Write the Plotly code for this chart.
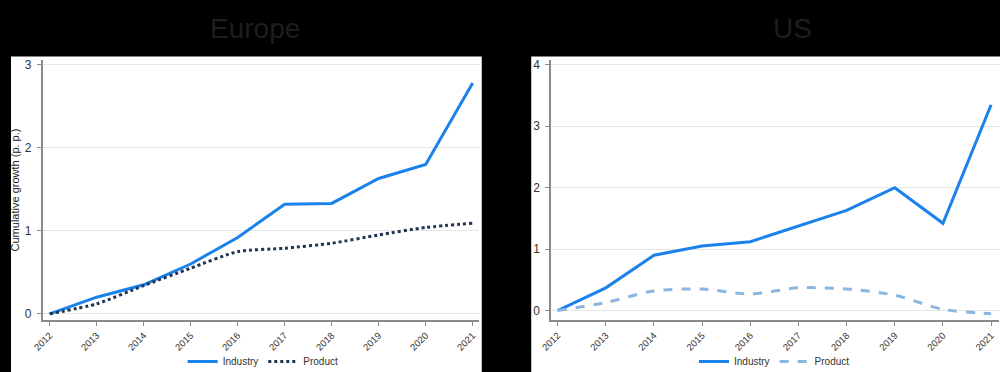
import plotly.graph_objects as go

years = [2012, 2013, 2014, 2015, 2016, 2017, 2018, 2019, 2020, 2021]
year_labels = [str(y) for y in years]

eu_industry = [0.0, 0.20, 0.35, 0.60, 0.92, 1.32, 1.33, 1.63, 1.80, 2.78]
eu_product = [0.0, 0.12, 0.34, 0.55, 0.75, 0.79, 0.85, 0.95, 1.04, 1.09]
us_industry = [0.0, 0.37, 0.90, 1.05, 1.12, 1.37, 1.63, 2.00, 1.42, 3.35]
us_product = [0.0, 0.13, 0.32, 0.35, 0.27, 0.37, 0.35, 0.25, 0.02, -0.05]

eu_yticks = [0, 1, 2, 3]
us_yticks = [0, 1, 2, 3, 4]

c_ind = "#1a82ea"
c_eu_prod = "#1f3552"
c_us_prod = "#8db6df"

H = 377  # slightly taller than the window; bottom few px fall outside the view

def py(p):
    return (H - p) / H

fig = go.Figure()
fig.add_trace(go.Scatter(x=years, y=eu_industry, mode="lines", name="Industry",
                         line=dict(color=c_ind, width=3), xaxis="x", yaxis="y", legend="legend"))
fig.add_trace(go.Scatter(x=years, y=eu_product, mode="lines", name="Product",
                         line=dict(color=c_eu_prod, width=3, dash="dot", shape="spline", smoothing=0.6),
                         xaxis="x", yaxis="y", legend="legend"))
fig.add_trace(go.Scatter(x=years, y=us_industry, mode="lines", name="Industry",
                         line=dict(color=c_ind, width=3), xaxis="x2", yaxis="y2", legend="legend2"))
fig.add_trace(go.Scatter(x=years, y=us_product, mode="lines", name="Product",
                         line=dict(color=c_us_prod, width=3, dash="dash", shape="spline", smoothing=0.8),
                         xaxis="x2", yaxis="y2", legend="legend2"))

axis_common = dict(showline=True, linecolor="#8a8a8a", linewidth=1.5, ticks="outside",
                   ticklen=4, tickcolor="#8a8a8a", zeroline=False,
                   tickfont=dict(family="Arial", size=12, color="#333333"))

xcommon = dict(axis_common, tickmode="array", tickvals=years, ticktext=year_labels,
               tickangle=-45, showgrid=False, tickfont=dict(family="Arial", size=9.5, color="#333333"))

ydom = [py(321), py(58)]

fig.update_layout(
    width=1000, height=H,
    margin=dict(l=0, r=0, t=0, b=0),
    paper_bgcolor="black",
    plot_bgcolor="white",
    xaxis=dict(xcommon, domain=[0.032, 0.473], range=[2011.85, 2021.13], anchor="y"),
    yaxis=dict(axis_common, domain=ydom, range=[-0.08, 3.063], anchor="x",
               tickmode="array", tickvals=eu_yticks, showgrid=True, gridcolor="#e6e6e6",
               ticklabelstandoff=3,
               title=dict(text="Cumulative growth (p. p.)", standoff=3,
                          font=dict(family="Arial", size=11, color="#222222"))),
    xaxis2=dict(xcommon, domain=[0.546, 0.999], range=[2011.862, 2021.164], anchor="y2"),
    yaxis2=dict(axis_common, domain=ydom, range=[-0.161, 4.086], anchor="x2",
                tickmode="array", tickvals=us_yticks, showgrid=True, gridcolor="#e6e6e6",
                ticklabelstandoff=3),
    legend=dict(orientation="h", x=0.255, y=0.0, xanchor="center", yanchor="bottom",
                bgcolor="rgba(0,0,0,0)", font=dict(family="Arial", size=10, color="#333333"),
                itemwidth=30),
    legend2=dict(orientation="h", x=0.772, y=0.0, xanchor="center", yanchor="bottom",
                 bgcolor="rgba(0,0,0,0)", font=dict(family="Arial", size=10, color="#333333"),
                 itemwidth=30),
    shapes=[
        dict(type="rect", xref="paper", yref="paper", x0=0, x1=0.476, y0=0, y1=py(55),
             fillcolor="white", line=dict(width=0), layer="below"),
        dict(type="rect", xref="paper", yref="paper", x0=0.526, x1=1.0, y0=0, y1=py(55),
             fillcolor="white", line=dict(width=0), layer="below"),
    ],
    annotations=[
        dict(text="Europe", xref="paper", yref="paper", x=0.247, y=py(27), showarrow=False,
             xanchor="center", yanchor="middle", font=dict(family="Arial", size=28, color="#1e1e1e")),
        dict(text="US", xref="paper", yref="paper", x=0.790, y=py(27), showarrow=False,
             xanchor="center", yanchor="middle", font=dict(family="Arial", size=28, color="#1e1e1e")),
    ],
)

fig.write_html("out.html", config={"displayModeBar": False},
               post_script="document.body.style.margin='0';document.body.style.overflow='hidden';")
